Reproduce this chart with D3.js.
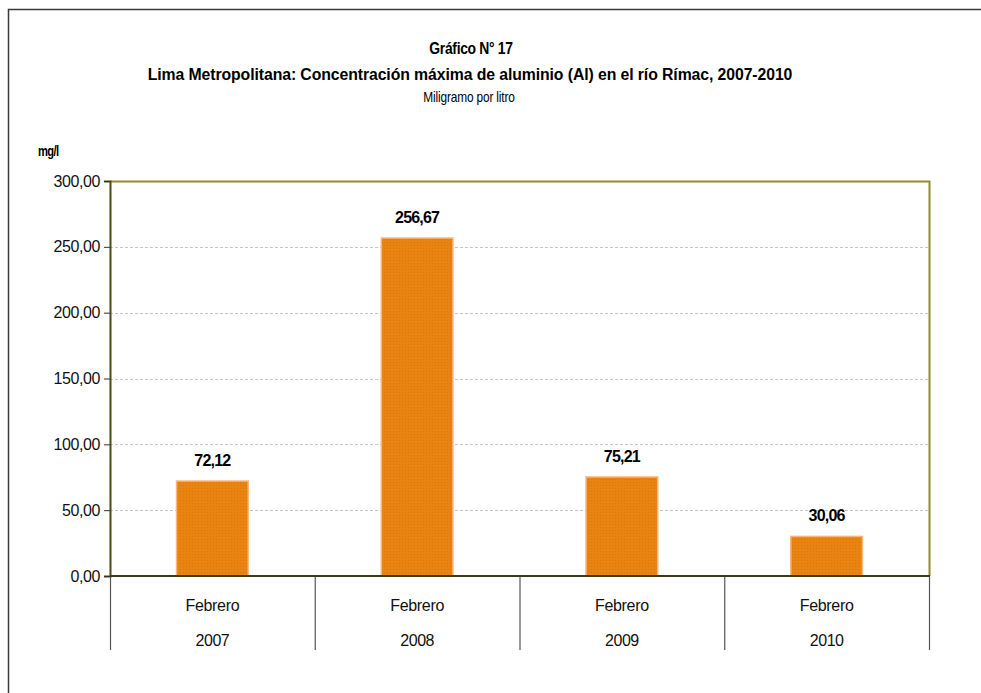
<!DOCTYPE html>
<html>
<head>
<meta charset="utf-8">
<script src="https://cdn.jsdelivr.net/npm/d3@7"></script>
<style>
  html, body { margin: 0; padding: 0; background: #fff; }
  svg { display: block; }
  text { font-family: "Liberation Sans", Arial, sans-serif; }
</style>
</head>
<body>
<svg id="chart" width="981" height="693"></svg>
<script>
// Aluminium concentration, Rímac river (mg/l)
const months = ["Febrero", "Febrero", "Febrero", "Febrero"];
const years = ["2007", "2008", "2009", "2010"];
const values = [72.12, 256.67, 75.21, 30.06];
const yTicks = [0, 50, 100, 150, 200, 250, 300];

const titleLines = [
  "Gráfico  N° 17",
  "Lima Metropolitana: Concentración máxima de aluminio (Al) en el río Rímac, 2007-2010"
];
const subtitle = "Miligramo por litro";
const unitLabel = "mg/l";

const W = 981, H = 693;
const margin = { left: 110, right: 52, top: 181, bottom: 117 };
const plotW = W - margin.left - margin.right;
const plotH = H - margin.top - margin.bottom;

const svg = d3.select("#chart");
const fmt = v => d3.format(".2f")(v).replace(".", ",");

// condensed text: regular face squeezed horizontally
function narrowText(parent, str, x, y, opts) {
  return parent.append("text")
    .attr("transform", `translate(${x},${y}) scale(${opts.sx},1)`)
    .attr("text-anchor", opts.anchor || "middle")
    .attr("font-size", opts.size)
    .attr("font-weight", opts.weight || "normal")
    .attr("letter-spacing", opts.ls || 0)
    .attr("fill", "#000")
    .text(str);
}

// outer frame
svg.append("path")
  .attr("d", `M8.5,${H} L8.5,9.5 L${W},9.5`)
  .attr("fill", "none").attr("stroke", "#3a3a3a").attr("stroke-width", 1.5);

// titles
narrowText(svg, titleLines[0], 471, 54, { sx: 0.82, size: 17, weight: "bold", ls: -0.4 });
narrowText(svg, titleLines[1], 470, 80, { sx: 0.93, size: 17, weight: "bold", ls: -0.1 });
narrowText(svg, subtitle, 469, 102, { sx: 0.85, size: 14, ls: -0.2 });
narrowText(svg, unitLabel, 38, 156, { sx: 0.8, size: 14, weight: "bold", ls: -0.8, anchor: "start" });

const g = svg.append("g").attr("transform", `translate(${margin.left},${margin.top})`);

const x = d3.scaleBand().domain(years).range([0, plotW]).paddingInner(0).paddingOuter(0);
const y = d3.scaleLinear().domain([0, 300]).range([plotH, 0]);

// grid lines
g.append("g").selectAll("line").data(yTicks.filter(t => t > 0 && t < 300)).join("line")
  .attr("x1", 0).attr("x2", plotW)
  .attr("y1", d => Math.round(y(d)) + 0.5).attr("y2", d => Math.round(y(d)) + 0.5)
  .attr("stroke", "#c4c4c4").attr("stroke-dasharray", "3,2");

// plot-area border (top and right)
g.append("path")
  .attr("d", `M0,${Math.round(y(300)) + 0.5} L${plotW + 0.5},${Math.round(y(300)) + 0.5} L${plotW + 0.5},${plotH}`)
  .attr("fill", "none").attr("stroke", "#8e8e2c").attr("stroke-width", 2);

// bars with a fine woven texture
const barW = x.bandwidth() * 0.35;
const defs = svg.append("defs");
const pat = defs.append("pattern").attr("id", "tex").attr("patternUnits", "userSpaceOnUse")
  .attr("width", 3).attr("height", 3);
pat.append("rect").attr("width", 3).attr("height", 3).attr("fill", "#ea830f");
pat.append("rect").attr("x", 1).attr("y", 1).attr("width", 1).attr("height", 1).attr("fill", "#d97809");

g.append("g").selectAll("rect").data(values).join("rect")
  .attr("x", (d, i) => x(years[i]) + (x.bandwidth() - barW) / 2)
  .attr("y", d => y(d))
  .attr("width", barW)
  .attr("height", d => plotH - y(d))
  .attr("fill", "url(#tex)")
  .attr("stroke", "#f6b77c").attr("stroke-width", 1.5);

// value labels
g.append("g").selectAll("text").data(values).join("text")
  .attr("x", (d, i) => x(years[i]) + x.bandwidth() / 2)
  .attr("y", d => y(d) - 15)
  .attr("text-anchor", "middle")
  .attr("font-size", 16).attr("font-weight", "bold").attr("letter-spacing", -0.8)
  .text(d => fmt(d));

// y axis
const yAxis = g.append("g").call(d3.axisLeft(y).tickValues(yTicks).tickSize(6).tickFormat(fmt));
yAxis.select(".domain").attr("stroke", "#4b4b1e").attr("stroke-width", 2);
yAxis.selectAll(".tick line").attr("stroke", "#333");
yAxis.selectAll(".tick text").attr("font-size", 16)
  .attr("fill", "#111").attr("dx", -1).attr("letter-spacing", -0.4);

// category separators
const seps = years.map(d => x(d)).concat([plotW]);
g.append("g").selectAll("line").data(seps).join("line")
  .attr("x1", d => d + 0.5).attr("x2", d => d + 0.5)
  .attr("y1", plotH).attr("y2", plotH + 74)
  .attr("stroke", "#555").attr("stroke-width", 1.2);

// x axis baseline
g.append("line").attr("x1", 0).attr("x2", plotW + 1)
  .attr("y1", plotH).attr("y2", plotH)
  .attr("stroke", "#3c3c18").attr("stroke-width", 2);

// category labels
const cats = g.append("g");
cats.selectAll("text.m").data(months).join("text").attr("class", "m")
  .attr("x", (d, i) => x(years[i]) + x.bandwidth() / 2)
  .attr("y", plotH + 35).attr("text-anchor", "middle")
  .attr("font-size", 16).attr("letter-spacing", -0.3).attr("fill", "#111")
  .text(d => d);
cats.selectAll("text.yr").data(years).join("text").attr("class", "yr")
  .attr("x", d => x(d) + x.bandwidth() / 2)
  .attr("y", plotH + 70).attr("text-anchor", "middle")
  .attr("font-size", 16).attr("letter-spacing", -0.5).attr("fill", "#111")
  .text(d => d);
</script>
</body>
</html>
